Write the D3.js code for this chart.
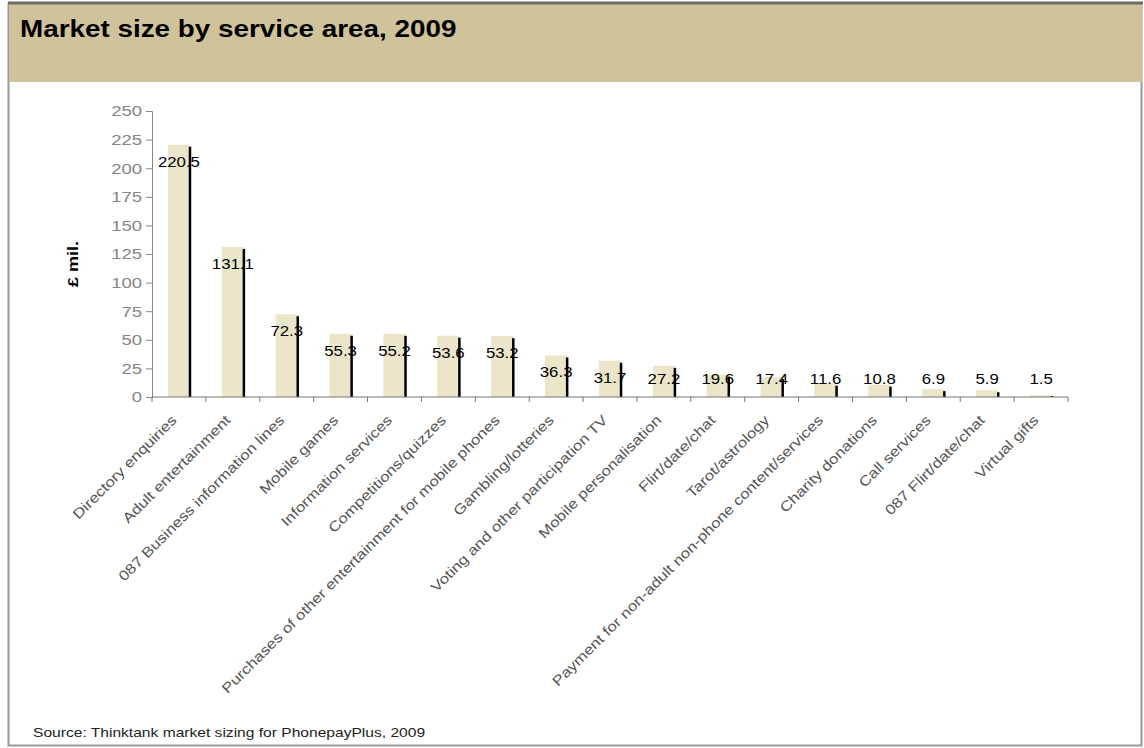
<!DOCTYPE html>
<html>
<head>
<meta charset="utf-8">
<script src="https://cdn.jsdelivr.net/npm/d3@7"></script>
<style>
  body { margin: 0; background: #fff; }
  svg { display: block; font-family: "Liberation Sans", Arial, sans-serif; }
</style>
</head>
<body>
<div id="chart"></div>
<script>
const categories = [
  'Directory enquiries', 'Adult entertainment', '087 Business information lines',
  'Mobile games', 'Information services', 'Competitions/quizzes',
  'Purchases of other entertainment for mobile phones', 'Gambling/lotteries',
  'Voting and other participation TV', 'Mobile personalisation', 'Flirt/date/chat',
  'Tarot/astrology', 'Payment for non-adult non-phone content/services',
  'Charity donations', 'Call services', '087 Flirt/date/chat', 'Virtual gifts'
];
const values = [220.5, 131.1, 72.3, 55.3, 55.2, 53.6, 53.2, 36.3, 31.7, 27.2, 19.6, 17.4, 11.6, 10.8, 6.9, 5.9, 1.5];
const yTicks = [0, 25, 50, 75, 100, 125, 150, 175, 200, 225, 250];

const width = 1144;
const height = 748;
const sx = 1.2; // the original text renders a bit wider than Liberation Sans

const svg = d3.select('#chart')
  .append('svg')
  .attr('width', width)
  .attr('height', height);

// frame + title band
svg.append('rect')
  .attr('x', 8.5).attr('y', 3.5)
  .attr('width', 1133).attr('height', 742)
  .attr('fill', '#fff')
  .attr('stroke', '#999').attr('stroke-width', 2);
svg.append('rect')
  .attr('x', 9).attr('y', 3)
  .attr('width', 1133).attr('height', 79)
  .attr('fill', '#d0c39c');
svg.append('line')
  .attr('x1', 8).attr('x2', 1143).attr('y1', 3).attr('y2', 3)
  .attr('stroke', '#6e6a5e').attr('stroke-width', 3);
svg.append('text')
  .attr('transform', 'translate(20, 37) scale(1.16, 1)')
  .attr('font-size', 24).attr('font-weight', 'bold')
  .attr('fill', '#000')
  .text('Market size by service area, 2009');

const margin = { top: 111, left: 152, right: 1068, bottom: 397 };

const xScale = d3.scaleBand()
  .domain(categories)
  .range([margin.left, margin.right])
  .paddingInner(0.59)
  .paddingOuter(0.295);

const yScale = d3.scaleLinear()
  .domain([0, 250])
  .range([margin.bottom, margin.top]);

// y axis
const yAxis = svg.append('g')
  .attr('transform', `translate(${margin.left}, 0)`)
  .call(d3.axisLeft(yScale).tickValues(yTicks).tickSize(6).tickPadding(4));
yAxis.select('.domain').attr('stroke', '#888');
yAxis.selectAll('.tick line').attr('stroke', '#888');
yAxis.selectAll('.tick text')
  .attr('font-size', 15).attr('fill', '#858585')
  .attr('font-family', '"Liberation Sans", Arial, sans-serif')
  .attr('x', -8)
  .attr('transform', `scale(${sx * 1.03}, 1)`);

svg.append('text')
  .attr('transform', `translate(78, 264) rotate(-90) scale(${sx}, 1)`)
  .attr('text-anchor', 'middle')
  .attr('font-size', 15).attr('font-weight', 'bold')
  .text('£ mil.');

// bars
const step = xScale.step();
svg.append('g')
  .selectAll('rect')
  .data(values)
  .join('rect')
  .attr('x', (d, i) => xScale(categories[i]))
  .attr('y', d => yScale(d))
  .attr('width', xScale.bandwidth())
  .attr('height', d => margin.bottom - yScale(d))
  .attr('fill', '#ebe5c9');

svg.append('g')
  .selectAll('line')
  .data(values)
  .join('line')
  .attr('x1', (d, i) => xScale(categories[i]) + xScale.bandwidth())
  .attr('x2', (d, i) => xScale(categories[i]) + xScale.bandwidth())
  .attr('y1', margin.bottom)
  .attr('y2', d => Math.min(yScale(d) + 2, margin.bottom - 1))
  .attr('stroke', '#000')
  .attr('stroke-width', 2.5);

// x axis line and ticks between categories
svg.append('line')
  .attr('x1', margin.left).attr('x2', margin.right)
  .attr('y1', margin.bottom).attr('y2', margin.bottom)
  .attr('stroke', '#777');
svg.append('g')
  .selectAll('line')
  .data(d3.range(categories.length + 1))
  .join('line')
  .attr('x1', i => margin.left + i * step)
  .attr('x2', i => margin.left + i * step)
  .attr('y1', margin.bottom)
  .attr('y2', margin.bottom + 5)
  .attr('stroke', '#777');

// value labels
svg.append('g')
  .selectAll('text')
  .data(values)
  .join('text')
  .attr('transform', (d, i) => {
    const x = xScale(categories[i]) + xScale.bandwidth() / 2;
    const y = Math.min(yScale(d) + 17, 379) + 5;
    return `translate(${x}, ${y}) scale(${sx}, 1)`;
  })
  .attr('text-anchor', 'middle')
  .attr('font-size', 14)
  .attr('fill', '#000')
  .text(d => d3.format('.1f')(d));

// category labels
svg.append('g')
  .selectAll('text')
  .data(categories)
  .join('text')
  .attr('transform', d => `translate(${xScale(d) + xScale.bandwidth() / 2 - 1.5}, ${margin.bottom + 24}) rotate(-45) scale(${sx}, 1)`)
  .attr('text-anchor', 'end')
  .attr('font-size', 14)
  .attr('fill', '#555')
  .text(d => d);

svg.append('text')
  .attr('transform', `translate(33, 737) scale(${sx}, 1)`)
  .attr('font-size', 13)
  .attr('fill', '#222')
  .text('Source: Thinktank market sizing for PhonepayPlus, 2009');
</script>
</body>
</html>
